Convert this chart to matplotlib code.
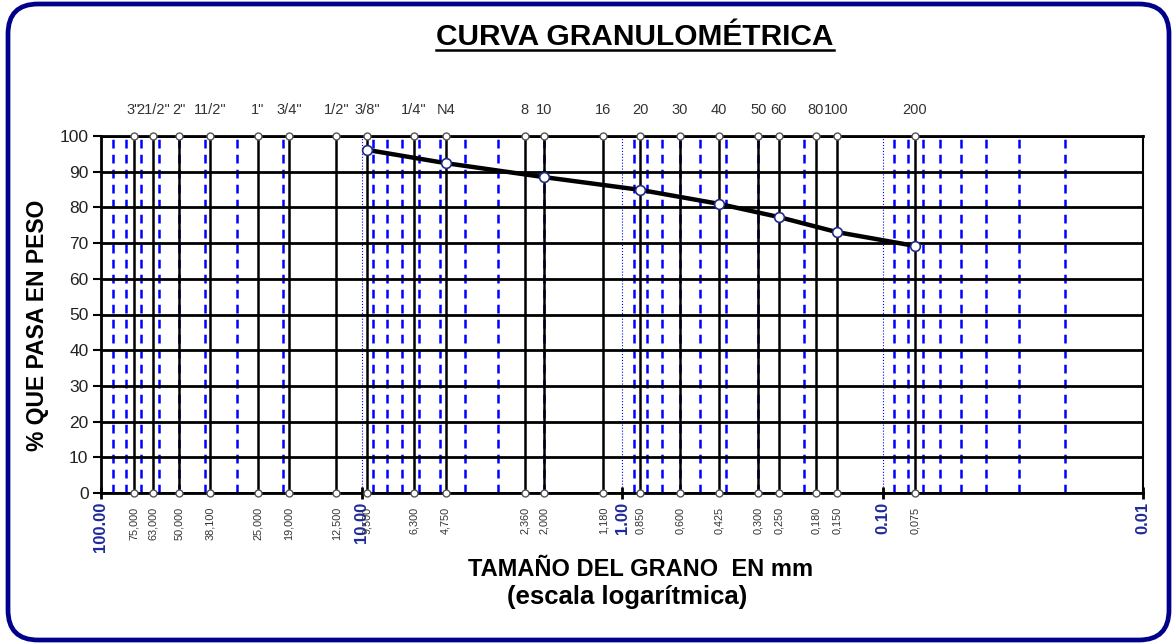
import matplotlib
matplotlib.use("Agg")
import matplotlib.pyplot as plt
from matplotlib.ticker import LogLocator, NullFormatter, FixedLocator
from matplotlib.patches import FancyBboxPatch
from matplotlib.lines import Line2D

plt.rcParams['font.family'] = ['Liberation Sans', 'DejaVu Sans']

# Sieve openings (mm) and their names
sieve_mm = [75.0, 63.0, 50.0, 38.1, 25.0, 19.0, 12.5, 9.5, 6.3, 4.75,
            2.36, 2.0, 1.18, 0.85, 0.6, 0.425, 0.3, 0.25, 0.18, 0.15, 0.075]
sieve_names = ['3"', '21/2"', '2"', '11/2"', '1"', '3/4"', '1/2"', '3/8"', '1/4"', 'N4',
               '8', '10', '16', '20', '30', '40', '50', '60', '80', '100', '200']
sieve_labels = ['75,000', '63,000', '50,000', '38,100', '25,000', '19,000', '12,500',
                '9,500', '6,300', '4,750', '2,360', '2,000', '1,180', '0,850', '0,600',
                '0,425', '0,300', '0,250', '0,180', '0,150', '0,075']

# Grading curve (% passing)
curve_mm = [9.5, 4.75, 2.0, 0.85, 0.425, 0.25, 0.15, 0.075]
curve_pass = [96.1, 92.4, 88.5, 84.9, 81.0, 77.3, 73.1, 69.2]

decades = [100, 10, 1, 0.1, 0.01]
decade_labels = ['100.00', '10.00', '1.00', '0.10', '0.01']

W, H = 1176, 644
fig = plt.figure(figsize=(W / 100, H / 100), dpi=100)
ax = fig.add_axes([101 / W, 1 - 493 / H, (1143 - 101) / W, (493 - 136) / H])

ax.set_xscale('log')
ax.set_xlim(100, 0.01)
ax.set_ylim(0, 100)

# log grid: decades thin dotted, sub-decades dashed blue
ax.xaxis.set_major_locator(FixedLocator(decades))
ax.xaxis.set_minor_locator(LogLocator(base=10, subs=range(2, 10), numticks=20))
ax.xaxis.set_minor_formatter(NullFormatter())
ax.grid(True, which='minor', axis='x', color='#0000ff', linestyle=(0, (3.5, 2.5)), linewidth=1.8)
ax.grid(True, which='major', axis='x', color='#0000ff', linestyle=':', linewidth=0.8)
ax.set_yticks(range(0, 101, 10))
ax.grid(True, which='major', axis='y', color='black', linewidth=2)
ax.set_axisbelow(True)

# sieve lines
ax.vlines(sieve_mm, 0, 100, color='black', linewidth=1.8, zorder=2)
ax.plot(sieve_mm, [100] * len(sieve_mm), 'o', ms=5, mfc='white', mec='#555555',
        mew=1, clip_on=False, zorder=5)
ax.plot(sieve_mm, [0] * len(sieve_mm), 'o', ms=5, mfc='white', mec='#555555',
        mew=1, clip_on=False, zorder=5)

for d, name, lab in zip(sieve_mm, sieve_names, sieve_labels):
    ax.annotate(name, (d, 100), xytext=(0, 19), textcoords='offset points',
                ha='center', va='center', fontsize=10.5, color='#333333')
    ax.annotate(lab, (d, 0), xytext=(0, -10), textcoords='offset points',
                ha='center', va='top', rotation=90, fontsize=7.8, color='#333333')

# curve
ax.plot(curve_mm, curve_pass, color='black', linewidth=3.2, zorder=6,
        marker='o', ms=7, mfc='white', mec='#1f2a8a', mew=1.2)

# axes styling
for side in ['left', 'bottom', 'top']:
    ax.spines[side].set_linewidth(2)
ax.spines['right'].set_linewidth(1.5)
ax.set_xticks(decades)
ax.set_xticklabels(decade_labels, rotation=90, fontsize=12, fontweight='bold',
                   color='#1f2a9a', va='top')
ax.tick_params(axis='x', which='major', direction='inout', length=9, width=2, pad=2)
ax.tick_params(axis='x', which='minor', length=0)
ax.tick_params(axis='y', direction='out', length=6, width=1.5, labelsize=12.5,
               labelcolor='#222222', pad=3)

fig.text(38 / W, 1 - 325 / H, '% QUE PASA EN PESO', rotation=90, ha='center', va='center',
         fontsize=16.5, fontweight='bold')
fig.text(641 / W, 1 - 570 / H, 'TAMAÑO DEL GRANO  EN mm', ha='center', va='center',
         fontsize=17, fontweight='bold')
fig.text(627 / W, 1 - 597 / H, '(escala logarítmica)', ha='center', va='center',
         fontsize=18.5, fontweight='bold')

title = fig.text(635 / W, 1 - 37 / H, 'CURVA GRANULOMÉTRICA', ha='center', va='center',
                 fontsize=21.5, fontweight='bold')

# underline the title
fig.canvas.draw()
bb = title.get_window_extent(fig.canvas.get_renderer())
y_line = (bb.y0 + 1) / H
fig.add_artist(Line2D([bb.x0 / W, bb.x1 / W], [y_line, y_line], color='black', linewidth=1.8))

# rounded frame
frame = FancyBboxPatch((8 / W, 4 / H), (1169 - 8) / W, (640 - 4) / H,
                       boxstyle='round,pad=0,rounding_size=%f' % (30 / W),
                       mutation_aspect=W / H, transform=fig.transFigure,
                       fill=False, edgecolor='#00008b', linewidth=3.4)
fig.add_artist(frame)

fig.savefig('out.png', dpi=100)
